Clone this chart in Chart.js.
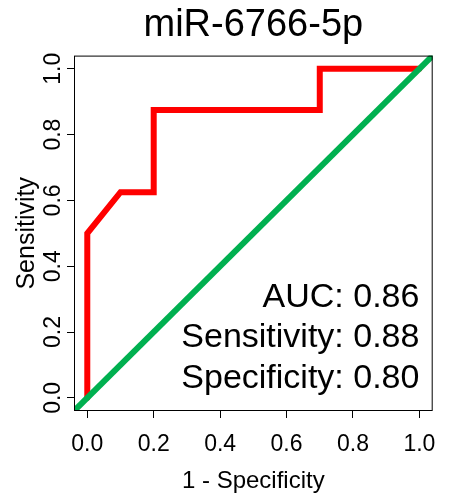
<!DOCTYPE html>
<html>
<head>
<meta charset="utf-8">
<script src="https://cdn.jsdelivr.net/npm/chart.js@4"></script>
<style>
  html, body { margin: 0; padding: 0; background: #fff; }
  #wrap { width: 449px; height: 500px; }
</style>
</head>
<body>
<div id="wrap"><canvas id="rocChart" width="449" height="500"></canvas></div>
<script>
const chartTitle = 'miR-6766-5p';
const fpr = [0, 0, 0.1, 0.2, 0.2, 0.7, 0.7, 1.0];
const sensitivity = [0, 0.5, 0.625, 0.625, 0.875, 0.875, 1.0, 1.0];
const refX = [-0.1, 1.1];
const refY = [-0.1, 1.1];
const tickValues = [0, 0.2, 0.4, 0.6, 0.8, 1.0];
const statLabels = ['AUC: 0.86', 'Sensitivity: 0.88', 'Specificity: 0.80'];
const statY = [0.277, 0.155, 0.03];

const FONT = "'Liberation Sans', Arial, Helvetica, sans-serif";

const boxAndText = {
  id: 'boxAndText',
  afterDatasetsDraw(chart) {
    const { ctx, chartArea, scales } = chart;
    ctx.save();
    ctx.strokeStyle = '#000';
    ctx.lineWidth = 1;
    ctx.strokeRect(chartArea.left + 0.5, chartArea.top + 0.5,
      chartArea.right - chartArea.left - 1, chartArea.bottom - chartArea.top - 1);
    ctx.fillStyle = '#000';
    ctx.font = '34px ' + FONT;
    ctx.textAlign = 'right';
    ctx.textBaseline = 'alphabetic';
    statLabels.forEach((t, i) => {
      ctx.fillText(t, scales.x.getPixelForValue(1.0), scales.y.getPixelForValue(statY[i]));
    });
    ctx.restore();
  }
};

const ctx = document.getElementById('rocChart').getContext('2d');
new Chart(ctx, {
  type: 'scatter',
  data: {
    datasets: [
      {
        data: refX.map((x, i) => ({ x: x, y: refY[i] })),
        showLine: true,
        borderColor: '#00b050',
        borderWidth: 6,
        pointRadius: 0,
        clip: 0
      },
      {
        data: fpr.map((x, i) => ({ x: x, y: sensitivity[i] })),
        showLine: true,
        borderColor: '#ff0000',
        borderWidth: 6,
        borderCapStyle: 'round',
        borderJoinStyle: 'miter',
        pointRadius: 0,
        clip: 0
      }
    ]
  },
  options: {
    responsive: false,
    animation: false,
    layout: { padding: 0 },
    plugins: {
      legend: { display: false },
      tooltip: { enabled: false },
      title: {
        display: true,
        text: chartTitle,
        fullSize: false,
        color: '#000',
        font: { family: FONT, size: 38, weight: 'normal' },
        padding: { top: 3, bottom: 7 }
      }
    },
    scales: {
      x: {
        type: 'linear',
        min: -0.04,
        max: 1.04,
        afterBuildTicks: s => { s.ticks = tickValues.map(v => ({ value: v })); },
        afterFit: s => { s.height = 89; },
        ticks: {
          color: '#000',
          font: { family: FONT, size: 23 },
          padding: 13,
          maxRotation: 0,
          callback: v => v.toFixed(1)
        },
        grid: { drawOnChartArea: false, drawTicks: true, tickLength: 7, color: '#000' },
        border: { display: false },
        title: {
          display: true,
          text: '1 - Specificity',
          color: '#000',
          font: { family: FONT, size: 24 },
          padding: { top: 0, bottom: 4 }
        }
      },
      y: {
        type: 'linear',
        min: -0.04,
        max: 1.04,
        afterBuildTicks: s => { s.ticks = tickValues.map(v => ({ value: v })); },
        afterFit: s => { s.width = 74; },
        ticks: {
          color: '#000',
          font: { family: FONT, size: 23 },
          padding: -3,
          minRotation: 90,
          maxRotation: 90,
          crossAlign: 'center',
          callback: v => v.toFixed(1)
        },
        grid: { drawOnChartArea: false, drawTicks: true, tickLength: 7, color: '#000' },
        border: { display: false },
        title: {
          display: true,
          text: 'Sensitivity',
          color: '#000',
          font: { family: FONT, size: 25 },
          padding: { top: 12, bottom: 0 }
        }
      }
    }
  },
  plugins: [boxAndText]
});
</script>
</body>
</html>
